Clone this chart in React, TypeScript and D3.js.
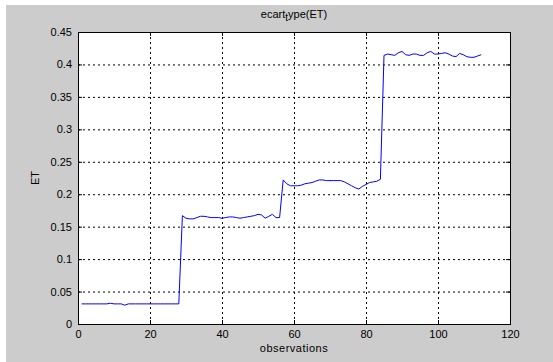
import React, { useRef, useEffect } from 'react';
import * as d3 from 'd3';

const WIDTH = 553;
const HEIGHT = 362;
const LINE_COLOR = '#0000ff';
const FONT = '"Liberation Sans", Arial, sans-serif';

// observations 1..112
const ET_VALUES: number[] = [
  0.031, 0.031, 0.031, 0.031, 0.031, 0.031, 0.031, 0.031, 0.032, 0.031,
  0.031, 0.031, 0.029, 0.031, 0.031, 0.031, 0.031, 0.031, 0.031, 0.031,
  0.031, 0.031, 0.031, 0.031, 0.031, 0.031, 0.031, 0.031, 0.167, 0.163,
  0.162, 0.162, 0.164, 0.166, 0.166, 0.165, 0.164, 0.164, 0.164, 0.163,
  0.164, 0.165, 0.165, 0.164, 0.163, 0.164, 0.165, 0.166, 0.167, 0.169,
  0.168, 0.163, 0.166, 0.169, 0.164, 0.164, 0.222, 0.216, 0.213, 0.213,
  0.213, 0.214, 0.216, 0.217, 0.218, 0.220, 0.222, 0.222, 0.221, 0.221,
  0.221, 0.221, 0.221, 0.219, 0.216, 0.213, 0.210, 0.208, 0.212, 0.215,
  0.218, 0.219, 0.220, 0.223, 0.414, 0.416, 0.415, 0.414, 0.418, 0.420,
  0.415, 0.414, 0.416, 0.416, 0.414, 0.414, 0.418, 0.420, 0.416, 0.416,
  0.417, 0.418, 0.416, 0.413, 0.412, 0.417, 0.415, 0.412, 0.411, 0.411,
  0.413, 0.415,
];

const X_TICKS = [0, 20, 40, 60, 80, 100, 120];
const Y_TICKS = [0, 0.05, 0.1, 0.15, 0.2, 0.25, 0.3, 0.35, 0.4, 0.45];
const X_LABEL = 'observations';
const Y_LABEL = 'ET';

export default function App() {
  const svgRef = useRef<SVGSVGElement>(null);

  useEffect(() => {
    const svgElement = svgRef.current;
    if (!svgElement) return;

    const svg = d3.select(svgElement);
    svg.selectAll('*').remove();

    const margin = { top: 32, right: 43, bottom: 38, left: 78 };
    const plotWidth = WIDTH - margin.left - margin.right;
    const plotHeight = HEIGHT - margin.top - margin.bottom;

    // figure background
    svg.append('rect')
      .attr('x', 0).attr('y', 0).attr('width', WIDTH).attr('height', HEIGHT)
      .attr('fill', '#ffffff');
    svg.append('rect')
      .attr('x', 6).attr('y', 5).attr('width', WIDTH - 6).attr('height', HEIGHT - 5)
      .attr('fill', '#cccccc');

    const x = d3.scaleLinear().domain([0, 120]).range([0, plotWidth]);
    const y = d3.scaleLinear().domain([0, 0.45]).range([plotHeight, 0]);

    const g = svg.append('g').attr('transform', `translate(${margin.left},${margin.top})`);

    g.append('rect')
      .attr('width', plotWidth).attr('height', plotHeight)
      .attr('fill', '#ffffff');

    // dotted grid
    g.append('g')
      .selectAll('line.vgrid')
      .data(X_TICKS.slice(1, -1))
      .join('line')
      .attr('x1', d => x(d) + 0.5).attr('x2', d => x(d) + 0.5)
      .attr('y1', 0).attr('y2', plotHeight)
      .attr('stroke', '#000').attr('stroke-width', 1).attr('stroke-dasharray', '2,3');

    g.append('g')
      .selectAll('line.hgrid')
      .data(Y_TICKS.slice(1, -1))
      .join('line')
      .attr('x1', 0).attr('x2', plotWidth)
      .attr('y1', d => y(d) + 0.5).attr('y2', d => y(d) + 0.5)
      .attr('stroke', '#000').attr('stroke-width', 1).attr('stroke-dasharray', '2,3');

    // data line
    const line = d3.line<number>()
      .x((_, i) => x(i + 1))
      .y(d => y(d));

    g.append('path').datum(ET_VALUES)
      .attr('fill', 'none').attr('stroke', LINE_COLOR).attr('stroke-width', 1)
      .attr('d', line);

    const styleAxis = (sel: d3.Selection<SVGGElement, unknown, null, undefined>) => {
      sel.select('.domain').remove();
      sel.selectAll('line').attr('stroke', '#000');
      sel.selectAll('text')
        .attr('fill', '#000').attr('font-size', '11px').attr('font-family', FONT);
    };

    // bottom / top
    g.append('g')
      .attr('transform', `translate(0,${plotHeight})`)
      .call(d3.axisBottom(x).tickValues(X_TICKS).tickFormat(d3.format('d')).tickSize(-4).tickPadding(6))
      .call(styleAxis);
    g.append('g')
      .call(d3.axisTop(x).tickValues(X_TICKS).tickFormat(() => '').tickSize(-4))
      .call(styleAxis);

    // left / right
    g.append('g')
      .call(d3.axisLeft(y).tickValues(Y_TICKS).tickFormat(d => String(+(+d).toFixed(2))).tickSize(-4).tickPadding(6))
      .call(styleAxis);
    g.append('g')
      .attr('transform', `translate(${plotWidth},0)`)
      .call(d3.axisRight(y).tickValues(Y_TICKS).tickFormat(() => '').tickSize(-4))
      .call(styleAxis);

    // box
    g.append('rect')
      .attr('x', 0.5).attr('y', 0.5)
      .attr('width', plotWidth).attr('height', plotHeight)
      .attr('fill', 'none').attr('stroke', '#000').attr('stroke-width', 1);

    // axis labels
    g.append('text')
      .attr('x', plotWidth / 2).attr('y', plotHeight + 28)
      .attr('text-anchor', 'middle').attr('fill', '#000')
      .attr('font-family', FONT).attr('font-size', '11px').attr('letter-spacing', '0.5px')
      .text(X_LABEL);

    g.append('text')
      .attr('transform', 'rotate(-90)')
      .attr('x', -(plotHeight / 2)).attr('y', -39)
      .attr('text-anchor', 'middle').attr('fill', '#000')
      .attr('font-family', FONT).attr('font-size', '11px')
      .text(Y_LABEL);

    // title: ecart_type(ET) rendered with subscript t
    const title = svg.append('text')
      .attr('x', margin.left + plotWidth / 2).attr('y', 18)
      .attr('text-anchor', 'middle').attr('fill', '#000')
      .attr('font-family', FONT).attr('font-size', '11px');
    title.append('tspan').text('ecart');
    title.append('tspan').attr('dy', 3).attr('font-size', '10px').text('t');
    title.append('tspan').attr('dy', -3).text('ype(ET)');
  }, []);

  return (
    <svg
      ref={svgRef}
      width={WIDTH}
      height={HEIGHT}
      style={{ position: 'absolute', left: 0, top: 0, display: 'block' }}
    />
  );
}
